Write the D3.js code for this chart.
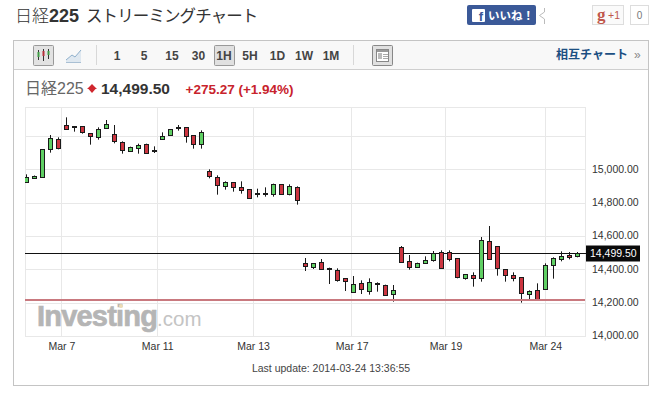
<!DOCTYPE html>
<html lang="ja"><head><meta charset="utf-8">
<script src="https://cdn.jsdelivr.net/npm/d3@7/dist/d3.min.js"></script>
<style>
html,body{margin:0;padding:0;background:#fff}
svg{display:block}
text{font-family:"Liberation Sans","Noto Sans CJK JP",sans-serif}
</style></head><body><div id="chart"></div>
<script>
const opens=[14923,14951,14955,15123,15183,15267,15255,15261,15219,15193,15247,15213,15167,15111,15127,15153,15117,15183,15205,15249,15255,15205,15153,14991,14953,14899,14925,14895,14883,14853,14853,14851,14913,14851,14895,14439,14413,14445,14403,14397,14349,14267,14319,14269,14315,14307,14251,14535,14451,14415,14439,14455,14505,14505,14469,14347,14367,14347,14571,14541,14403,14367,14355,14251,14277,14283,14427,14461,14485,14483];
const highs=[14973,14966,15123,15209,15195,15315,15263,15261,15219,15255,15299,15269,15171,15139,15157,15157,15141,15225,15245,15269,15255,15205,15237,15003,14967,14931,14925,14931,14883,14887,14895,14917,14913,14913,14901,14471,14441,14465,14413,14409,14349,14363,14337,14349,14325,14311,14309,14543,14489,14443,14481,14513,14517,14517,14469,14375,14385,14597,14663,14541,14403,14385,14355,14277,14319,14439,14475,14511,14507,14507];
const lows=[14923,14945,14955,15103,15123,15239,15229,15217,15151,15181,15247,15159,15097,15109,15097,15097,15101,15181,15203,15235,15163,15127,15127,14949,14851,14881,14869,14857,14827,14835,14839,14839,14851,14847,14791,14393,14405,14400,14315,14329,14273,14263,14255,14251,14269,14245,14209,14441,14401,14413,14437,14449,14407,14451,14349,14341,14299,14329,14459,14365,14329,14331,14203,14217,14219,14281,14347,14451,14463,14475];
const closes=[14955,14961,15123,15189,15131,15245,15259,15223,15199,15243,15273,15169,15117,15135,15147,15101,15111,15201,15243,15255,15201,15151,15225,14959,14907,14925,14895,14877,14827,14859,14859,14913,14851,14901,14815,14419,14439,14401,14407,14335,14329,14313,14281,14325,14321,14245,14277,14445,14413,14439,14457,14499,14409,14463,14353,14373,14347,14577,14463,14409,14365,14347,14259,14271,14223,14427,14469,14481,14473,14499.5];
const priceTicks=[14000,14200,14400,14600,14800,15000];
const gridPrices=[14000,14200,14400,14600,14800,15000,15200];
const dateLabels=["Mar 7","Mar 11","Mar 13","Mar 17","Mar 19","Mar 24"];
const datePositions=[4.4,16.4,28.4,40.75,52.5,65];
const lastPrice=14499.5, prevClose=14224.23;
const intervals=["1","5","15","30","1H","5H","1D","1W","1M"];
const intervalX=[117,144,172,198.5,224,250,277.5,304,331];

const W=664,H=405;
const L=25,R=585,T=107,B=336.5;
const svg=d3.select("#chart").append("svg").attr("width",W).attr("height",H);
const x=d3.scaleLinear().domain([0,69]).range([26.3,577.3]);
const y=d3.scaleLinear().domain([14000,15377]).range([B,T]);
const snap=v=>Math.floor(v)+.5;

// page title
const title=svg.append("text").attr("x",15).attr("y",22).attr("fill","#333");
title.append("tspan").attr("font-size",17).attr("font-weight",300).text("日経");
title.append("tspan").attr("font-size",18).attr("font-weight","bold").text("225");
title.append("tspan").attr("x",86).attr("font-size",16.5).attr("letter-spacing",-.9).text("ストリーミングチャート");

// social buttons
svg.append("rect").attr("x",467).attr("y",5).attr("width",69).attr("height",20).attr("rx",2).attr("fill","#3b5998");
svg.append("rect").attr("x",472).attr("y",9).attr("width",13).attr("height",13).attr("rx",1).attr("fill","#fff");
svg.append("text").attr("x",481).attr("y",21).attr("font-size",13).attr("font-weight","bold").attr("text-anchor","middle").attr("fill","#3b5998").text("f");
svg.append("text").attr("x",488).attr("y",19.5).attr("font-size",11.5).attr("font-weight","bold").attr("fill","#fff").text("いいね！");
svg.append("path").attr("d","M544.5 8 L544.5 12 L539.5 15.5 L544.5 19 L544.5 24").attr("fill","none").attr("stroke","#bbb");
svg.append("rect").attr("x",592.5).attr("y",5.5).attr("width",31).attr("height",19).attr("fill","#fafafa").attr("stroke","#ddd");
svg.append("text").attr("x",597).attr("y",20).attr("font-size",17).attr("font-weight","bold").style("font-family","Liberation Serif").attr("fill","#c0574c").text("g");
svg.append("text").attr("x",608).attr("y",18.5).attr("font-size",10.5).attr("fill","#c0574c").text("+1");
svg.append("rect").attr("x",630.5).attr("y",5.5).attr("width",18).attr("height",19).attr("fill","#fff").attr("stroke","#ddd");
svg.append("text").attr("x",639.5).attr("y",19).attr("font-size",10).attr("text-anchor","middle").attr("fill","#777").text("0");

// panel and toolbar
svg.append("rect").attr("x",13.5).attr("y",40.5).attr("width",635).attr("height",345).attr("fill","#fff").attr("stroke","#c4c4c4");
svg.append("rect").attr("x",14).attr("y",41).attr("width",634).attr("height",28).attr("fill","#f8f8f8");
svg.append("line").attr("x1",14).attr("x2",648).attr("y1",69.5).attr("y2",69.5).attr("stroke","#cfcfcf");
[96.5,353.5].forEach(p=>svg.append("line").attr("x1",p).attr("x2",p).attr("y1",45).attr("y2",65).attr("stroke","#d8d8d8"));

svg.append("rect").attr("x",33.5).attr("y",45.5).attr("width",20).attr("height",20).attr("rx",1).attr("fill","#e2e2e2").attr("stroke","#999");
[[38.5,"#3f9d45",50,60,52,57],[43.5,"#b5303a",49,61,51,56],[48.5,"#3f9d45",49,59,51,55]].forEach(([px,c,a,b,d,e])=>{
  svg.append("line").attr("x1",px).attr("x2",px).attr("y1",a).attr("y2",b).attr("stroke","#333");
  svg.append("rect").attr("x",px-1).attr("y",d).attr("width",2).attr("height",e-d).attr("fill",c);
});
svg.append("path").attr("d","M66 60 L72 55 L75 57 L81 50 L81 62 L66 62Z").attr("fill","#dfe8f0");
svg.append("path").attr("d","M66 60 L72 55 L75 57 L81 50").attr("fill","none").attr("stroke","#8fb0cc");
svg.append("line").attr("x1",66).attr("x2",81).attr("y1",62.5).attr("y2",62.5).attr("stroke","#aac0d4");

svg.append("rect").attr("x",214.5).attr("y",45.5).attr("width",20).attr("height",20).attr("rx",1).attr("fill","#e0e0e0").attr("stroke","#999");
svg.append("g").selectAll("text").data(intervals).join("text")
  .attr("x",(d,i)=>intervalX[i]).attr("y",59.5).attr("text-anchor","middle")
  .attr("font-size",12).attr("font-weight","bold").attr("fill","#444").text(d=>d);

svg.append("rect").attr("x",372.5).attr("y",45.5).attr("width",20).attr("height",20).attr("rx",1).attr("fill","#e0e0e0").attr("stroke","#888");
svg.append("rect").attr("x",376.5).attr("y",49.5).attr("width",12).attr("height",12).attr("fill","#fff").attr("stroke","#888");
svg.append("rect").attr("x",377).attr("y",50).attr("width",11).attr("height",2).attr("fill","#999");
svg.append("rect").attr("x",378).attr("y",53).attr("width",4).attr("height",6).attr("fill","#bbb");
[54,56,58].forEach(p=>svg.append("line").attr("x1",383).attr("x2",388).attr("y1",p+.5).attr("y2",p+.5).attr("stroke","#aaa"));

svg.append("text").attr("x",556).attr("y",59).attr("font-size",12).attr("font-weight","bold").attr("fill","#1c4f82").text("相互チャート");
svg.append("text").attr("x",634).attr("y",59).attr("font-size",12).attr("fill","#888").text("»");

// quote line
svg.append("text").attr("x",25).attr("y",94).attr("font-size",16).attr("fill","#666").text("日経225");
svg.append("path").attr("d","M92 84 L97 89 L87 89Z M88.5 89 L95.5 89 L92 93Z").attr("fill","#d0272e");
svg.append("text").attr("x",101).attr("y",94).attr("font-size",15.5).attr("font-weight","bold").attr("fill","#333").text(d3.format(",.2f")(lastPrice));
svg.append("text").attr("x",185.5).attr("y",94).attr("font-size",13.5).attr("font-weight","bold").attr("fill","#c8232c").text("+275.27 (+1.94%)");

// plot frame & grid
const grid=svg.append("g").attr("stroke","#e8e8e8").attr("fill","none");
grid.append("rect").attr("x",L+.5).attr("y",T+.5).attr("width",R-L).attr("height",B-T-.5);
grid.selectAll("line.h").data(gridPrices).join("line").attr("class","h")
  .attr("x1",L).attr("x2",R).attr("y1",d=>snap(y(d))).attr("y2",d=>snap(y(d)));
grid.selectAll("line.v").data(datePositions).join("line").attr("class","v")
  .attr("x1",d=>snap(x(d))).attr("x2",d=>snap(x(d))).attr("y1",T).attr("y2",B);

// watermark
const logo=svg.append("text").attr("x",37).attr("y",326).attr("fill","#b5b5b5");
logo.append("tspan").attr("font-size",29).attr("font-weight","bold").attr("letter-spacing",-.8).attr("stroke","#b5b5b5").attr("stroke-width",.7).text("Investing");
logo.append("tspan").attr("font-size",20.5).attr("fill","#c4c4c4").text(".com");
svg.append("rect").attr("x",119).attr("y",304).attr("width",4).attr("height",4).attr("rx",2).attr("fill","#eddcb4");

// axes
const xAxis=d3.axisBottom(x).tickValues(datePositions).tickSize(0).tickPadding(0).tickFormat((d,i)=>dateLabels[i]);
const gx=svg.append("g").attr("transform",`translate(0,${B+6})`).call(xAxis);
const yAxis=d3.axisRight(y).tickValues(priceTicks).tickSize(0).tickPadding(0).tickFormat(d3.format(",.2f"));
const gy=svg.append("g").attr("transform","translate(592,-1)").call(yAxis);
[gx,gy].forEach(g=>{g.select(".domain").remove();
  g.selectAll("text").attr("font-size",10.5).attr("fill","#333").style("font-family","Liberation Sans");});

// last price line
svg.append("line").attr("x1",L).attr("x2",586).attr("y1",snap(y(lastPrice))).attr("y2",snap(y(lastPrice))).attr("stroke","#111");

// candles
svg.append("defs").append("clipPath").attr("id","plot").append("rect").attr("x",L).attr("y",T).attr("width",R-L).attr("height",B-T);
const candles=svg.append("g").attr("clip-path","url(#plot)").selectAll("g").data(opens.map((o,i)=>i)).join("g");
candles.append("line")
  .attr("x1",i=>snap(x(i))).attr("x2",i=>snap(x(i)))
  .attr("y1",i=>y(highs[i])).attr("y2",i=>y(lows[i]))
  .attr("stroke","#1a1a1a");
candles.append("rect")
  .attr("x",i=>snap(x(i))-2).attr("width",4)
  .attr("y",i=>snap(y(Math.max(opens[i],closes[i]))))
  .attr("height",i=>Math.max(0,snap(y(Math.min(opens[i],closes[i])))-snap(y(Math.max(opens[i],closes[i])))))
  .attr("fill",i=>closes[i]>=opens[i]?"#5fcf63":"#cc3540")
  .attr("stroke","#1a1a1a");

// price tag
svg.append("rect").attr("x",586).attr("y",245.5).attr("width",54).attr("height",16).attr("fill","#0a0a0a");
svg.append("text").attr("x",590).attr("y",257).attr("font-size",10.5).attr("fill","#fff").text(d3.format(",.2f")(lastPrice));

// footer
svg.append("text").attr("x",331).attr("y",372).attr("font-size",10.5).attr("text-anchor","middle").attr("fill","#444").text("Last update: 2014-03-24 13:36:55");

// previous close line
svg.append("rect").attr("x",L).attr("width",R-L).attr("y",Math.floor(y(prevClose))).attr("height",2).attr("fill","#c9797f");
</script></body></html>
